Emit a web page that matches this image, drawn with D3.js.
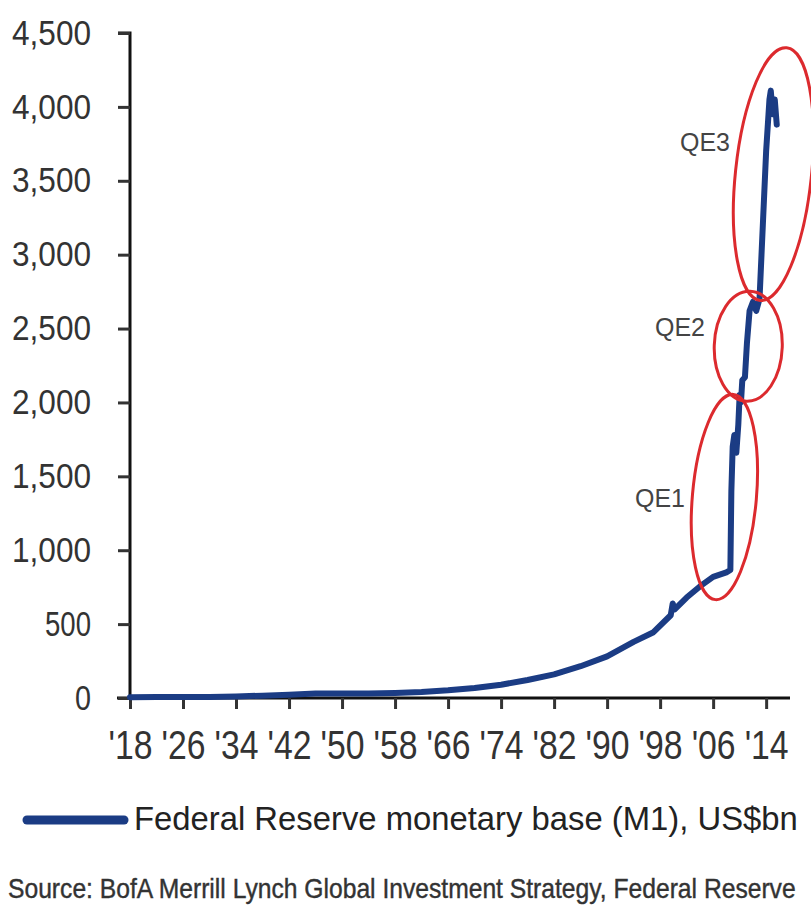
<!DOCTYPE html>
<html>
<head>
<meta charset="utf-8">
<script src="https://cdn.jsdelivr.net/npm/d3@7"></script>
<style>
body { margin: 0; background: #fff; }
text { font-family: "Liberation Sans", Arial, sans-serif; }
</style>
</head>
<body>
<div id="chart"></div>
<script>
var width = 811;
var height = 907;

// Fed monetary base, US$bn
const years = [1918, 1922, 1926, 1930, 1934, 1938, 1942, 1946, 1950, 1954, 1958, 1962, 1966, 1970,
	1974, 1978, 1982, 1986, 1990, 1994, 1997, 1999.6, 1999.9, 2000.2, 2002, 2004, 2006, 2008, 2008.6,
	2008.75, 2008.95, 2009.2, 2009.5, 2009.8, 2010.0, 2010.2, 2010.4, 2010.8, 2011.1, 2011.5, 2012.0,
	2012.5, 2013.0, 2013.5, 2014.0, 2014.5, 2014.7, 2015.0, 2015.3, 2015.6];
const base = [5, 6, 7, 7, 10, 16, 22, 30, 30, 31, 34, 40, 52, 68,
	90, 122, 160, 215, 282, 380, 445, 560, 640, 600, 680, 755, 820, 850, 866,
	1400, 1700, 1780, 1660, 1850, 2050, 2000, 2150, 2170, 2400, 2620, 2680,
	2620, 2700, 3200, 3700, 4050, 4110, 3950, 4050, 3880];

const xTicks = [1918, 1926, 1934, 1942, 1950, 1958, 1966, 1974, 1982, 1990, 1998, 2006, 2014];
const yTicks = [0, 500, 1000, 1500, 2000, 2500, 3000, 3500, 4000, 4500];

// annotation circles: label, centre year, centre value
const qeLabels = ["QE1", "QE2", "QE3"];
const qeYears = [2007.7, 2011.3, 2015.1];
const qeValues = [1360, 2380, 3545];

const legendLabel = "Federal Reserve monetary base (M1), US$bn";
const sourceLabel = "Source: BofA Merrill Lynch Global Investment Strategy, Federal Reserve";

var svg = d3
	.select("#chart")
	.append("svg")
	.attr("width", width)
	.attr("height", height);

svg.append("rect").attr("width", width).attr("height", height).attr("fill", "#fff");

var x = d3.scaleLinear().domain([1918, 2017.6]).range([130, 790]);
var y = d3.scaleLinear().domain([0, 4500]).range([698, 33]);

// squeeze a text sideways so it spans w pixels (the reference font is narrow)
function squeeze(sel, px, py, w) {
	var natural = sel.node().getComputedTextLength();
	sel.attr("transform", "translate(" + px + "," + py + ") scale(" + (w / natural) + ",1)");
}

// x axis
var xAxis = svg.append("g")
	.attr("transform", "translate(0," + y(0) + ")")
	.call(d3.axisBottom(x).tickValues(xTicks).tickSize(11).tickPadding(22)
		.tickFormat((d) => "'" + String(d).slice(2)));
xAxis.select(".domain").attr("d", "M117,0H790").attr("stroke", "#111").attr("stroke-width", 3);
xAxis.selectAll(".tick line").attr("stroke", "#333").attr("stroke-width", 3);
xAxis.selectAll(".tick text")
	.attr("font-size", 40)
	.attr("fill", "#333")
	.attr("textLength", 44)
	.attr("lengthAdjust", "spacingAndGlyphs");

// y axis
var yAxis = svg.append("g")
	.attr("transform", "translate(" + x(1918) + ",0)")
	.call(d3.axisLeft(y).tickValues(yTicks).tickSize(12).tickPadding(27).tickFormat(d3.format(",")));
yAxis.select(".domain").attr("d", "M-12," + y(4500) + "H0V" + y(0)).attr("stroke", "#111").attr("stroke-width", 3);
yAxis.selectAll(".tick line").attr("stroke", "#333").attr("stroke-width", 3);
yAxis.selectAll(".tick text")
	.attr("font-size", 35)
	.attr("fill", "#333")
	.attr("textLength", (d) => (d >= 1000 ? 79 : d > 0 ? 46 : 16))
	.attr("lengthAdjust", "spacingAndGlyphs");

// the series
var line = d3.line()
	.x((d, i) => x(years[i]))
	.y((d) => y(d));

svg.append("path")
	.attr("d", line(base))
	.attr("fill", "none")
	.attr("stroke", "#1b3c84")
	.attr("stroke-width", 6)
	.attr("stroke-linejoin", "round")
	.attr("stroke-linecap", "round");

// red ellipses round the QE rounds
const qeRx = [32, 34, 38];
const qeRy = [103, 55, 127];
const qeTilt = [5, 2, 6];
const qeLabelX = [685, 705, 730];
const qeLabelY = [498, 327, 142];

svg.selectAll("ellipse.qe")
	.data(qeLabels)
	.join("ellipse")
	.attr("class", "qe")
	.attr("transform", (d, i) => "translate(" + x(qeYears[i]) + "," + y(qeValues[i]) + ") rotate(" + qeTilt[i] + ")")
	.attr("rx", (d, i) => qeRx[i])
	.attr("ry", (d, i) => qeRy[i])
	.attr("fill", "none")
	.attr("stroke", "#dc2a2e")
	.attr("stroke-width", 3);

svg.selectAll("text.qe")
	.data(qeLabels)
	.join("text")
	.attr("class", "qe")
	.attr("x", (d, i) => qeLabelX[i])
	.attr("y", (d, i) => qeLabelY[i])
	.attr("dy", "0.35em")
	.attr("text-anchor", "end")
	.attr("font-size", 25)
	.attr("fill", "#444")
	.attr("textLength", 50)
	.attr("lengthAdjust", "spacingAndGlyphs")
	.text((d) => d);

// legend
svg.append("line")
	.attr("x1", 27).attr("x2", 124)
	.attr("y1", 820).attr("y2", 820)
	.attr("stroke", "#1b3c84")
	.attr("stroke-width", 9)
	.attr("stroke-linecap", "round");
var legendText = svg.append("text")
	.attr("font-size", 34)
	.attr("fill", "#222")
	.text(legendLabel);
squeeze(legendText, 134, 830, 664);

// source line
var sourceText = svg.append("text")
	.attr("font-size", 27)
	.attr("fill", "#333")
	.attr("stroke", "#333")
	.attr("stroke-width", 0.4)
	.text(sourceLabel);
squeeze(sourceText, 8, 898, 788);
</script>
</body>
</html>
